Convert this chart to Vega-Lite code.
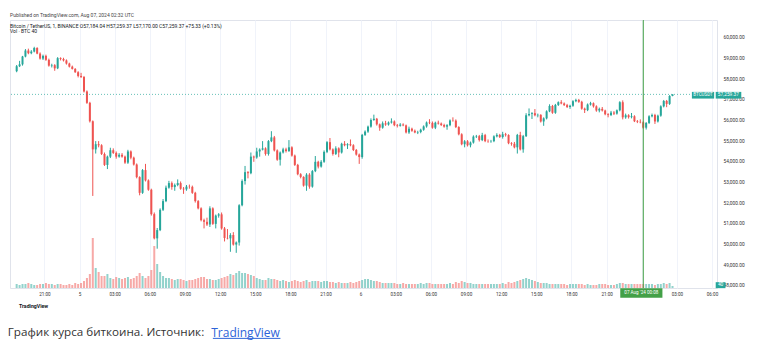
{
  "$schema": "https://vega.github.io/schema/vega-lite/v6.json",
  "width": 707,
  "height": 268,
  "autosize": {"type": "none"},
  "padding": {"left": 10, "top": 20, "right": 45, "bottom": 65},
  "background": "white",
  "config": {
    "font": "Roboto",
    "view": {"stroke": "#e0e3eb", "strokeWidth": 1},
    "axis": {"labelOverlap": false}
  },
  "title": {
    "text": "Published on TradingView.com, Aug 07, 2024 02:32 UTC",
    "subtitle": ["Bitcoin / TetherUS, 1, BINANCE   O57,184.04  H57,259.37  L57,170.00  C57,259.37  +75.33 (+0.13%)", "Vol · BTC   40"],
    "anchor": "start",
    "frame": "group",
    "fontSize": 5,
    "fontWeight": "normal",
    "color": "#444",
    "subtitleFontSize": 5,
    "subtitleColor": "#131722",
    "subtitlePadding": 6,
    "subtitleLineHeight": 5,
    "offset": -14
  },
  "datasets": {
    "candles": [
      {"t": "2024-08-04T18:30:00Z", "o": 58380, "h": 58680, "l": 58330, "c": 58620, "v": 240},
      {"t": "2024-08-04T18:45:00Z", "o": 58620, "h": 58880, "l": 58580, "c": 58710, "v": 180},
      {"t": "2024-08-04T19:00:00Z", "o": 58710, "h": 59120, "l": 58650, "c": 59090, "v": 240},
      {"t": "2024-08-04T19:15:00Z", "o": 59090, "h": 59450, "l": 59050, "c": 59380, "v": 240},
      {"t": "2024-08-04T19:30:00Z", "o": 59380, "h": 59470, "l": 59200, "c": 59250, "v": 300},
      {"t": "2024-08-04T19:45:00Z", "o": 59250, "h": 59400, "l": 59200, "c": 59330, "v": 240},
      {"t": "2024-08-04T20:00:00Z", "o": 59330, "h": 59560, "l": 59290, "c": 59500, "v": 180},
      {"t": "2024-08-04T20:15:00Z", "o": 59500, "h": 59540, "l": 59200, "c": 59230, "v": 180},
      {"t": "2024-08-04T20:30:00Z", "o": 59230, "h": 59290, "l": 58940, "c": 58990, "v": 240},
      {"t": "2024-08-04T20:45:00Z", "o": 58990, "h": 59180, "l": 58920, "c": 59120, "v": 240},
      {"t": "2024-08-04T21:00:00Z", "o": 59120, "h": 59180, "l": 58880, "c": 58930, "v": 300},
      {"t": "2024-08-04T21:15:00Z", "o": 58930, "h": 58990, "l": 58600, "c": 58650, "v": 240},
      {"t": "2024-08-04T21:30:00Z", "o": 58650, "h": 58740, "l": 58560, "c": 58670, "v": 240},
      {"t": "2024-08-04T21:45:00Z", "o": 58670, "h": 58720, "l": 58400, "c": 58520, "v": 180},
      {"t": "2024-08-04T22:00:00Z", "o": 58520, "h": 59060, "l": 58480, "c": 59010, "v": 240},
      {"t": "2024-08-04T22:15:00Z", "o": 59010, "h": 59050, "l": 58900, "c": 58970, "v": 240},
      {"t": "2024-08-04T22:30:00Z", "o": 58970, "h": 59030, "l": 58850, "c": 58900, "v": 180},
      {"t": "2024-08-04T22:45:00Z", "o": 58900, "h": 58950, "l": 58700, "c": 58750, "v": 180},
      {"t": "2024-08-04T23:00:00Z", "o": 58750, "h": 58790, "l": 58560, "c": 58600, "v": 240},
      {"t": "2024-08-04T23:15:00Z", "o": 58600, "h": 58650, "l": 58460, "c": 58490, "v": 180},
      {"t": "2024-08-04T23:30:00Z", "o": 58490, "h": 58530, "l": 58300, "c": 58330, "v": 300},
      {"t": "2024-08-04T23:45:00Z", "o": 58330, "h": 58380, "l": 58080, "c": 58150, "v": 240},
      {"t": "2024-08-05T00:00:00Z", "o": 58150, "h": 58300, "l": 58050, "c": 58100, "v": 300},
      {"t": "2024-08-05T00:15:00Z", "o": 58100, "h": 58150, "l": 57350, "c": 57400, "v": 420},
      {"t": "2024-08-05T00:30:00Z", "o": 57400, "h": 57450, "l": 56800, "c": 56850, "v": 600},
      {"t": "2024-08-05T00:45:00Z", "o": 56850, "h": 56900, "l": 55900, "c": 55960, "v": 840},
      {"t": "2024-08-05T01:00:00Z", "o": 55960, "h": 56000, "l": 52350, "c": 54600, "v": 3000},
      {"t": "2024-08-05T01:15:00Z", "o": 54600, "h": 55000, "l": 54400, "c": 54850, "v": 1200},
      {"t": "2024-08-05T01:30:00Z", "o": 54850, "h": 55000, "l": 54700, "c": 54800, "v": 960},
      {"t": "2024-08-05T01:45:00Z", "o": 54800, "h": 54850, "l": 54330, "c": 54380, "v": 720},
      {"t": "2024-08-05T02:00:00Z", "o": 54380, "h": 54450, "l": 53800, "c": 53850, "v": 720},
      {"t": "2024-08-05T02:15:00Z", "o": 53850, "h": 54300, "l": 53650, "c": 54250, "v": 840},
      {"t": "2024-08-05T02:30:00Z", "o": 54250, "h": 54680, "l": 54180, "c": 54560, "v": 600},
      {"t": "2024-08-05T02:45:00Z", "o": 54560, "h": 54650, "l": 54380, "c": 54430, "v": 540},
      {"t": "2024-08-05T03:00:00Z", "o": 54430, "h": 54500, "l": 54150, "c": 54250, "v": 660},
      {"t": "2024-08-05T03:15:00Z", "o": 54250, "h": 54420, "l": 54200, "c": 54340, "v": 600},
      {"t": "2024-08-05T03:30:00Z", "o": 54340, "h": 54420, "l": 54200, "c": 54250, "v": 540},
      {"t": "2024-08-05T03:45:00Z", "o": 54250, "h": 54300, "l": 53900, "c": 53960, "v": 600},
      {"t": "2024-08-05T04:00:00Z", "o": 53960, "h": 54580, "l": 53900, "c": 54500, "v": 660},
      {"t": "2024-08-05T04:15:00Z", "o": 54500, "h": 54550, "l": 54120, "c": 54200, "v": 540},
      {"t": "2024-08-05T04:30:00Z", "o": 54200, "h": 54250, "l": 53820, "c": 53870, "v": 600},
      {"t": "2024-08-05T04:45:00Z", "o": 53870, "h": 53920, "l": 53200, "c": 53260, "v": 720},
      {"t": "2024-08-05T05:00:00Z", "o": 53260, "h": 53300, "l": 52380, "c": 52500, "v": 900},
      {"t": "2024-08-05T05:15:00Z", "o": 52500, "h": 53650, "l": 52450, "c": 53600, "v": 720},
      {"t": "2024-08-05T05:30:00Z", "o": 53600, "h": 53900, "l": 53050, "c": 53100, "v": 600},
      {"t": "2024-08-05T05:45:00Z", "o": 53100, "h": 53150, "l": 52600, "c": 52650, "v": 720},
      {"t": "2024-08-05T06:00:00Z", "o": 52650, "h": 52700, "l": 51400, "c": 51470, "v": 1080},
      {"t": "2024-08-05T06:15:00Z", "o": 51470, "h": 51550, "l": 50250, "c": 50300, "v": 2520},
      {"t": "2024-08-05T06:30:00Z", "o": 50300, "h": 50800, "l": 49800, "c": 50700, "v": 1440},
      {"t": "2024-08-05T06:45:00Z", "o": 50700, "h": 51750, "l": 50650, "c": 51680, "v": 960},
      {"t": "2024-08-05T07:00:00Z", "o": 51680, "h": 52200, "l": 51620, "c": 52100, "v": 720},
      {"t": "2024-08-05T07:15:00Z", "o": 52100, "h": 52850, "l": 52050, "c": 52750, "v": 600},
      {"t": "2024-08-05T07:30:00Z", "o": 52750, "h": 53080, "l": 52700, "c": 52970, "v": 600},
      {"t": "2024-08-05T07:45:00Z", "o": 52970, "h": 53050, "l": 52650, "c": 52780, "v": 540},
      {"t": "2024-08-05T08:00:00Z", "o": 52780, "h": 52950, "l": 52600, "c": 52880, "v": 480},
      {"t": "2024-08-05T08:15:00Z", "o": 52880, "h": 53150, "l": 52820, "c": 52970, "v": 540},
      {"t": "2024-08-05T08:30:00Z", "o": 52970, "h": 53050, "l": 52650, "c": 52700, "v": 540},
      {"t": "2024-08-05T08:45:00Z", "o": 52700, "h": 52780, "l": 52450, "c": 52670, "v": 480},
      {"t": "2024-08-05T09:00:00Z", "o": 52670, "h": 52880, "l": 52600, "c": 52800, "v": 420},
      {"t": "2024-08-05T09:15:00Z", "o": 52800, "h": 52900, "l": 52700, "c": 52790, "v": 480},
      {"t": "2024-08-05T09:30:00Z", "o": 52790, "h": 52850, "l": 52450, "c": 52500, "v": 480},
      {"t": "2024-08-05T09:45:00Z", "o": 52500, "h": 52550, "l": 52030, "c": 52100, "v": 540},
      {"t": "2024-08-05T10:00:00Z", "o": 52100, "h": 52150, "l": 51700, "c": 51750, "v": 600},
      {"t": "2024-08-05T10:15:00Z", "o": 51750, "h": 51800, "l": 51120, "c": 51180, "v": 660},
      {"t": "2024-08-05T10:30:00Z", "o": 51180, "h": 51250, "l": 50780, "c": 51100, "v": 660},
      {"t": "2024-08-05T10:45:00Z", "o": 51100, "h": 51300, "l": 50900, "c": 50970, "v": 540},
      {"t": "2024-08-05T11:00:00Z", "o": 50970, "h": 51850, "l": 50850, "c": 51750, "v": 540},
      {"t": "2024-08-05T11:15:00Z", "o": 51750, "h": 51800, "l": 50950, "c": 51000, "v": 480},
      {"t": "2024-08-05T11:30:00Z", "o": 51000, "h": 51450, "l": 50780, "c": 51400, "v": 480},
      {"t": "2024-08-05T11:45:00Z", "o": 51400, "h": 51520, "l": 51300, "c": 51460, "v": 540},
      {"t": "2024-08-05T12:00:00Z", "o": 51460, "h": 51550, "l": 50720, "c": 50780, "v": 600},
      {"t": "2024-08-05T12:15:00Z", "o": 50780, "h": 50850, "l": 50150, "c": 50320, "v": 660},
      {"t": "2024-08-05T12:30:00Z", "o": 50320, "h": 50750, "l": 50250, "c": 50300, "v": 720},
      {"t": "2024-08-05T12:45:00Z", "o": 50300, "h": 50550, "l": 49650, "c": 50460, "v": 840},
      {"t": "2024-08-05T13:00:00Z", "o": 50460, "h": 50600, "l": 49950, "c": 50000, "v": 780},
      {"t": "2024-08-05T13:15:00Z", "o": 50000, "h": 50150, "l": 49600, "c": 50100, "v": 900},
      {"t": "2024-08-05T13:30:00Z", "o": 50100, "h": 51950, "l": 49950, "c": 51900, "v": 1020},
      {"t": "2024-08-05T13:45:00Z", "o": 51900, "h": 53150, "l": 51850, "c": 53070, "v": 900},
      {"t": "2024-08-05T14:00:00Z", "o": 53070, "h": 53800, "l": 52900, "c": 53500, "v": 900},
      {"t": "2024-08-05T14:15:00Z", "o": 53500, "h": 53550, "l": 53200, "c": 53450, "v": 840},
      {"t": "2024-08-05T14:30:00Z", "o": 53450, "h": 54450, "l": 53400, "c": 54250, "v": 780},
      {"t": "2024-08-05T14:45:00Z", "o": 54250, "h": 54300, "l": 54000, "c": 54210, "v": 720},
      {"t": "2024-08-05T15:00:00Z", "o": 54210, "h": 54680, "l": 54150, "c": 54500, "v": 600},
      {"t": "2024-08-05T15:15:00Z", "o": 54500, "h": 54650, "l": 54250, "c": 54590, "v": 540},
      {"t": "2024-08-05T15:30:00Z", "o": 54590, "h": 55000, "l": 54550, "c": 54650, "v": 480},
      {"t": "2024-08-05T15:45:00Z", "o": 54650, "h": 54700, "l": 54300, "c": 54380, "v": 480},
      {"t": "2024-08-05T16:00:00Z", "o": 54380, "h": 55050, "l": 54300, "c": 55000, "v": 600},
      {"t": "2024-08-05T16:15:00Z", "o": 55000, "h": 55480, "l": 54950, "c": 55180, "v": 540},
      {"t": "2024-08-05T16:30:00Z", "o": 55180, "h": 55250, "l": 54500, "c": 54550, "v": 540},
      {"t": "2024-08-05T16:45:00Z", "o": 54550, "h": 54600, "l": 54050, "c": 54100, "v": 480},
      {"t": "2024-08-05T17:00:00Z", "o": 54100, "h": 54500, "l": 53820, "c": 54450, "v": 420},
      {"t": "2024-08-05T17:15:00Z", "o": 54450, "h": 54680, "l": 54400, "c": 54600, "v": 480},
      {"t": "2024-08-05T17:30:00Z", "o": 54600, "h": 54680, "l": 54450, "c": 54520, "v": 420},
      {"t": "2024-08-05T17:45:00Z", "o": 54520, "h": 55050, "l": 54480, "c": 54700, "v": 360},
      {"t": "2024-08-05T18:00:00Z", "o": 54700, "h": 54750, "l": 54250, "c": 54300, "v": 420},
      {"t": "2024-08-05T18:15:00Z", "o": 54300, "h": 54350, "l": 53800, "c": 53850, "v": 480},
      {"t": "2024-08-05T18:30:00Z", "o": 53850, "h": 53900, "l": 53350, "c": 53400, "v": 420},
      {"t": "2024-08-05T18:45:00Z", "o": 53400, "h": 53450, "l": 53200, "c": 53270, "v": 360},
      {"t": "2024-08-05T19:00:00Z", "o": 53270, "h": 53300, "l": 52800, "c": 52850, "v": 420},
      {"t": "2024-08-05T19:15:00Z", "o": 52850, "h": 53450, "l": 52600, "c": 53380, "v": 480},
      {"t": "2024-08-05T19:30:00Z", "o": 53380, "h": 53450, "l": 52700, "c": 52800, "v": 360},
      {"t": "2024-08-05T19:45:00Z", "o": 52800, "h": 53600, "l": 52750, "c": 53550, "v": 420},
      {"t": "2024-08-05T20:00:00Z", "o": 53550, "h": 54280, "l": 53500, "c": 54000, "v": 420},
      {"t": "2024-08-05T20:15:00Z", "o": 54000, "h": 54050, "l": 53680, "c": 53770, "v": 420},
      {"t": "2024-08-05T20:30:00Z", "o": 53770, "h": 54080, "l": 53720, "c": 54000, "v": 360},
      {"t": "2024-08-05T20:45:00Z", "o": 54000, "h": 54550, "l": 53950, "c": 54480, "v": 420},
      {"t": "2024-08-05T21:00:00Z", "o": 54480, "h": 55000, "l": 54420, "c": 54950, "v": 420},
      {"t": "2024-08-05T21:15:00Z", "o": 54950, "h": 55150, "l": 54550, "c": 54600, "v": 360},
      {"t": "2024-08-05T21:30:00Z", "o": 54600, "h": 54650, "l": 54300, "c": 54380, "v": 360},
      {"t": "2024-08-05T21:45:00Z", "o": 54380, "h": 54750, "l": 54330, "c": 54650, "v": 300},
      {"t": "2024-08-05T22:00:00Z", "o": 54650, "h": 54700, "l": 54220, "c": 54450, "v": 360},
      {"t": "2024-08-05T22:15:00Z", "o": 54450, "h": 54920, "l": 54400, "c": 54870, "v": 300},
      {"t": "2024-08-05T22:30:00Z", "o": 54870, "h": 55000, "l": 54750, "c": 54800, "v": 300},
      {"t": "2024-08-05T22:45:00Z", "o": 54800, "h": 54900, "l": 54620, "c": 54850, "v": 300},
      {"t": "2024-08-05T23:00:00Z", "o": 54850, "h": 55080, "l": 54750, "c": 54800, "v": 360},
      {"t": "2024-08-05T23:15:00Z", "o": 54800, "h": 54850, "l": 54520, "c": 54570, "v": 300},
      {"t": "2024-08-05T23:30:00Z", "o": 54570, "h": 54620, "l": 54300, "c": 54350, "v": 360},
      {"t": "2024-08-05T23:45:00Z", "o": 54350, "h": 54400, "l": 53900, "c": 54230, "v": 420},
      {"t": "2024-08-06T00:00:00Z", "o": 54230, "h": 55350, "l": 54150, "c": 55300, "v": 480},
      {"t": "2024-08-06T00:15:00Z", "o": 55300, "h": 55520, "l": 55250, "c": 55460, "v": 540},
      {"t": "2024-08-06T00:30:00Z", "o": 55460, "h": 55750, "l": 55400, "c": 55700, "v": 540},
      {"t": "2024-08-06T00:45:00Z", "o": 55700, "h": 56100, "l": 55650, "c": 56020, "v": 480},
      {"t": "2024-08-06T01:00:00Z", "o": 56020, "h": 56280, "l": 55980, "c": 56080, "v": 420},
      {"t": "2024-08-06T01:15:00Z", "o": 56080, "h": 56120, "l": 55750, "c": 55810, "v": 420},
      {"t": "2024-08-06T01:30:00Z", "o": 55810, "h": 55850, "l": 55500, "c": 55650, "v": 360},
      {"t": "2024-08-06T01:45:00Z", "o": 55650, "h": 55950, "l": 55600, "c": 55860, "v": 300},
      {"t": "2024-08-06T02:00:00Z", "o": 55860, "h": 55980, "l": 55740, "c": 55800, "v": 300},
      {"t": "2024-08-06T02:15:00Z", "o": 55800, "h": 55950, "l": 55750, "c": 55900, "v": 300},
      {"t": "2024-08-06T02:30:00Z", "o": 55900, "h": 56100, "l": 55850, "c": 55950, "v": 300},
      {"t": "2024-08-06T02:45:00Z", "o": 55950, "h": 56000, "l": 55720, "c": 55770, "v": 300},
      {"t": "2024-08-06T03:00:00Z", "o": 55770, "h": 55830, "l": 55660, "c": 55740, "v": 240},
      {"t": "2024-08-06T03:15:00Z", "o": 55740, "h": 55870, "l": 55700, "c": 55800, "v": 240},
      {"t": "2024-08-06T03:30:00Z", "o": 55800, "h": 55860, "l": 55720, "c": 55760, "v": 300},
      {"t": "2024-08-06T03:45:00Z", "o": 55760, "h": 55800, "l": 55370, "c": 55420, "v": 240},
      {"t": "2024-08-06T04:00:00Z", "o": 55420, "h": 55700, "l": 55350, "c": 55600, "v": 240},
      {"t": "2024-08-06T04:15:00Z", "o": 55600, "h": 55650, "l": 55450, "c": 55500, "v": 240},
      {"t": "2024-08-06T04:30:00Z", "o": 55500, "h": 55560, "l": 55380, "c": 55420, "v": 240},
      {"t": "2024-08-06T04:45:00Z", "o": 55420, "h": 55500, "l": 55340, "c": 55440, "v": 240},
      {"t": "2024-08-06T05:00:00Z", "o": 55440, "h": 55600, "l": 55380, "c": 55550, "v": 300},
      {"t": "2024-08-06T05:15:00Z", "o": 55550, "h": 55760, "l": 55500, "c": 55710, "v": 240},
      {"t": "2024-08-06T05:30:00Z", "o": 55710, "h": 55950, "l": 55650, "c": 55900, "v": 300},
      {"t": "2024-08-06T05:45:00Z", "o": 55900, "h": 56060, "l": 55820, "c": 55880, "v": 300},
      {"t": "2024-08-06T06:00:00Z", "o": 55880, "h": 55950, "l": 55600, "c": 55650, "v": 240},
      {"t": "2024-08-06T06:15:00Z", "o": 55650, "h": 55940, "l": 55580, "c": 55890, "v": 240},
      {"t": "2024-08-06T06:30:00Z", "o": 55890, "h": 55990, "l": 55800, "c": 55850, "v": 240},
      {"t": "2024-08-06T06:45:00Z", "o": 55850, "h": 55900, "l": 55730, "c": 55780, "v": 240},
      {"t": "2024-08-06T07:00:00Z", "o": 55780, "h": 55840, "l": 55650, "c": 55700, "v": 240},
      {"t": "2024-08-06T07:15:00Z", "o": 55700, "h": 55820, "l": 55550, "c": 55770, "v": 240},
      {"t": "2024-08-06T07:30:00Z", "o": 55770, "h": 56050, "l": 55720, "c": 56000, "v": 300},
      {"t": "2024-08-06T07:45:00Z", "o": 56000, "h": 56150, "l": 55940, "c": 55990, "v": 240},
      {"t": "2024-08-06T08:00:00Z", "o": 55990, "h": 56050, "l": 55630, "c": 55680, "v": 360},
      {"t": "2024-08-06T08:15:00Z", "o": 55680, "h": 55720, "l": 55280, "c": 55330, "v": 300},
      {"t": "2024-08-06T08:30:00Z", "o": 55330, "h": 55380, "l": 54800, "c": 54850, "v": 420},
      {"t": "2024-08-06T08:45:00Z", "o": 54850, "h": 55050, "l": 54700, "c": 54990, "v": 360},
      {"t": "2024-08-06T09:00:00Z", "o": 54990, "h": 55050, "l": 54740, "c": 54800, "v": 300},
      {"t": "2024-08-06T09:15:00Z", "o": 54800, "h": 54980, "l": 54700, "c": 54930, "v": 300},
      {"t": "2024-08-06T09:30:00Z", "o": 54930, "h": 55280, "l": 54880, "c": 55220, "v": 240},
      {"t": "2024-08-06T09:45:00Z", "o": 55220, "h": 55300, "l": 55150, "c": 55240, "v": 240},
      {"t": "2024-08-06T10:00:00Z", "o": 55240, "h": 55300, "l": 54980, "c": 55050, "v": 240},
      {"t": "2024-08-06T10:15:00Z", "o": 55050, "h": 55400, "l": 55000, "c": 55290, "v": 240},
      {"t": "2024-08-06T10:30:00Z", "o": 55290, "h": 55350, "l": 54950, "c": 55000, "v": 240},
      {"t": "2024-08-06T10:45:00Z", "o": 55000, "h": 55080, "l": 54920, "c": 54990, "v": 240},
      {"t": "2024-08-06T11:00:00Z", "o": 54990, "h": 55060, "l": 54920, "c": 55000, "v": 240},
      {"t": "2024-08-06T11:15:00Z", "o": 55000, "h": 55280, "l": 54950, "c": 55230, "v": 240},
      {"t": "2024-08-06T11:30:00Z", "o": 55230, "h": 55380, "l": 55180, "c": 55300, "v": 240},
      {"t": "2024-08-06T11:45:00Z", "o": 55300, "h": 55350, "l": 55150, "c": 55200, "v": 240},
      {"t": "2024-08-06T12:00:00Z", "o": 55200, "h": 55450, "l": 55120, "c": 55330, "v": 300},
      {"t": "2024-08-06T12:15:00Z", "o": 55330, "h": 55400, "l": 55220, "c": 55290, "v": 240},
      {"t": "2024-08-06T12:30:00Z", "o": 55290, "h": 55330, "l": 54850, "c": 54900, "v": 360},
      {"t": "2024-08-06T12:45:00Z", "o": 54900, "h": 54950, "l": 54780, "c": 54870, "v": 300},
      {"t": "2024-08-06T13:00:00Z", "o": 54870, "h": 54960, "l": 54650, "c": 54700, "v": 360},
      {"t": "2024-08-06T13:15:00Z", "o": 54700, "h": 55350, "l": 54400, "c": 55300, "v": 420},
      {"t": "2024-08-06T13:30:00Z", "o": 55300, "h": 55450, "l": 54550, "c": 54600, "v": 480},
      {"t": "2024-08-06T13:45:00Z", "o": 54600, "h": 55300, "l": 54440, "c": 55240, "v": 540},
      {"t": "2024-08-06T14:00:00Z", "o": 55240, "h": 56350, "l": 55200, "c": 56250, "v": 600},
      {"t": "2024-08-06T14:15:00Z", "o": 56250, "h": 56580, "l": 56200, "c": 56310, "v": 540},
      {"t": "2024-08-06T14:30:00Z", "o": 56310, "h": 56400, "l": 56070, "c": 56350, "v": 480},
      {"t": "2024-08-06T14:45:00Z", "o": 56350, "h": 56550, "l": 56200, "c": 56250, "v": 420},
      {"t": "2024-08-06T15:00:00Z", "o": 56250, "h": 56330, "l": 56150, "c": 56270, "v": 360},
      {"t": "2024-08-06T15:15:00Z", "o": 56270, "h": 56300, "l": 55900, "c": 55950, "v": 300},
      {"t": "2024-08-06T15:30:00Z", "o": 55950, "h": 56150, "l": 55740, "c": 56100, "v": 300},
      {"t": "2024-08-06T15:45:00Z", "o": 56100, "h": 56490, "l": 56050, "c": 56440, "v": 300},
      {"t": "2024-08-06T16:00:00Z", "o": 56440, "h": 56780, "l": 56400, "c": 56700, "v": 240},
      {"t": "2024-08-06T16:15:00Z", "o": 56700, "h": 56750, "l": 56320, "c": 56370, "v": 240},
      {"t": "2024-08-06T16:30:00Z", "o": 56370, "h": 56800, "l": 56320, "c": 56750, "v": 240},
      {"t": "2024-08-06T16:45:00Z", "o": 56750, "h": 56920, "l": 56700, "c": 56880, "v": 240},
      {"t": "2024-08-06T17:00:00Z", "o": 56880, "h": 56980, "l": 56780, "c": 56820, "v": 240},
      {"t": "2024-08-06T17:15:00Z", "o": 56820, "h": 56870, "l": 56700, "c": 56740, "v": 240},
      {"t": "2024-08-06T17:30:00Z", "o": 56740, "h": 56800, "l": 56600, "c": 56650, "v": 180},
      {"t": "2024-08-06T17:45:00Z", "o": 56650, "h": 56760, "l": 56560, "c": 56710, "v": 240},
      {"t": "2024-08-06T18:00:00Z", "o": 56710, "h": 56980, "l": 56660, "c": 56930, "v": 240},
      {"t": "2024-08-06T18:15:00Z", "o": 56930, "h": 57050, "l": 56880, "c": 56990, "v": 240},
      {"t": "2024-08-06T18:30:00Z", "o": 56990, "h": 57040, "l": 56850, "c": 56900, "v": 240},
      {"t": "2024-08-06T18:45:00Z", "o": 56900, "h": 56950, "l": 56520, "c": 56570, "v": 240},
      {"t": "2024-08-06T19:00:00Z", "o": 56570, "h": 56620, "l": 56360, "c": 56500, "v": 180},
      {"t": "2024-08-06T19:15:00Z", "o": 56500, "h": 56820, "l": 56450, "c": 56770, "v": 240},
      {"t": "2024-08-06T19:30:00Z", "o": 56770, "h": 56900, "l": 56720, "c": 56830, "v": 180},
      {"t": "2024-08-06T19:45:00Z", "o": 56830, "h": 56870, "l": 56620, "c": 56680, "v": 180},
      {"t": "2024-08-06T20:00:00Z", "o": 56680, "h": 56730, "l": 56420, "c": 56480, "v": 180},
      {"t": "2024-08-06T20:15:00Z", "o": 56480, "h": 56620, "l": 56390, "c": 56560, "v": 240},
      {"t": "2024-08-06T20:30:00Z", "o": 56560, "h": 56650, "l": 56430, "c": 56480, "v": 240},
      {"t": "2024-08-06T20:45:00Z", "o": 56480, "h": 56520, "l": 56250, "c": 56300, "v": 240},
      {"t": "2024-08-06T21:00:00Z", "o": 56300, "h": 56350, "l": 56150, "c": 56260, "v": 180},
      {"t": "2024-08-06T21:15:00Z", "o": 56260, "h": 56460, "l": 56210, "c": 56380, "v": 180},
      {"t": "2024-08-06T21:30:00Z", "o": 56380, "h": 56450, "l": 56260, "c": 56330, "v": 180},
      {"t": "2024-08-06T21:45:00Z", "o": 56330, "h": 56530, "l": 56280, "c": 56490, "v": 240},
      {"t": "2024-08-06T22:00:00Z", "o": 56490, "h": 56930, "l": 56440, "c": 56880, "v": 300},
      {"t": "2024-08-06T22:15:00Z", "o": 56880, "h": 56970, "l": 56050, "c": 56150, "v": 300},
      {"t": "2024-08-06T22:30:00Z", "o": 56150, "h": 56330, "l": 56080, "c": 56250, "v": 240},
      {"t": "2024-08-06T22:45:00Z", "o": 56250, "h": 56300, "l": 56090, "c": 56160, "v": 240},
      {"t": "2024-08-06T23:00:00Z", "o": 56160, "h": 56360, "l": 56100, "c": 56200, "v": 240},
      {"t": "2024-08-06T23:15:00Z", "o": 56200, "h": 56250, "l": 55920, "c": 55960, "v": 240},
      {"t": "2024-08-06T23:30:00Z", "o": 55960, "h": 56020, "l": 55870, "c": 55930, "v": 240},
      {"t": "2024-08-06T23:45:00Z", "o": 55930, "h": 56050, "l": 55860, "c": 55910, "v": 240},
      {"t": "2024-08-07T00:00:00Z", "o": 55910, "h": 55960, "l": 55600, "c": 55650, "v": 240},
      {"t": "2024-08-07T00:15:00Z", "o": 55650, "h": 55920, "l": 55560, "c": 55880, "v": 240},
      {"t": "2024-08-07T00:30:00Z", "o": 55880, "h": 56250, "l": 55830, "c": 56200, "v": 240},
      {"t": "2024-08-07T00:45:00Z", "o": 56200, "h": 56330, "l": 56150, "c": 56260, "v": 240},
      {"t": "2024-08-07T01:00:00Z", "o": 56260, "h": 56320, "l": 55830, "c": 55950, "v": 180},
      {"t": "2024-08-07T01:15:00Z", "o": 55950, "h": 56280, "l": 55900, "c": 56230, "v": 240},
      {"t": "2024-08-07T01:30:00Z", "o": 56230, "h": 56730, "l": 56180, "c": 56680, "v": 240},
      {"t": "2024-08-07T01:45:00Z", "o": 56680, "h": 56990, "l": 56630, "c": 56940, "v": 300},
      {"t": "2024-08-07T02:00:00Z", "o": 56940, "h": 56990, "l": 56640, "c": 56800, "v": 240},
      {"t": "2024-08-07T02:15:00Z", "o": 56800, "h": 57220, "l": 56750, "c": 57184.04, "v": 300},
      {"t": "2024-08-07T02:30:00Z", "o": 57184.04, "h": 57259.37, "l": 57170, "c": 57259.37, "v": 120}
    ]
  },
  "data": {"name": "candles"},
  "layer": [
    {
      "mark": {"type": "bar", "width": 2, "xOffset": 1.5, "opacity": 0.5},
      "encoding": {
        "x": {
          "field": "t",
          "type": "temporal",
          "scale": {
            "type": "utc",
            "domain": [
              {"year": 2024, "month": 8, "date": 4, "hours": 18, "minutes": 29, "seconds": 12, "utc": true},
              {"year": 2024, "month": 8, "date": 7, "hours": 6, "utc": true}
            ]
          },
          "axis": {
            "tickCount": 20,
            "labelExpr": "utchours(datum.value) == 0 ? (utcdate(datum.value) == 7 ? '' : utcFormat(datum.value, '%-d')) : utcFormat(datum.value, '%H:%M')",
            "labelFontSize": 4.6,
            "labelColor": "#333",
            "labelPadding": 3,
            "labelOverlap": false,
            "labelFlush": false,
            "ticks": false,
            "domain": false,
            "gridColor": "#f0f3fa",
            "gridWidth": 1,
            "title": "График курса биткоина. Источник:",
            "titleX": -2.7,
            "titleY": 44.5,
            "titleAlign": "left",
            "titleBaseline": "middle",
            "titleFont": "Open Sans",
            "titleFontSize": 11.65,
            "titleFontWeight": "normal",
            "titleColor": "#333"
          }
        },
        "y": {
          "field": "v",
          "type": "quantitative",
          "scale": {"domain": [0, 16080]},
          "axis": {
            "orient": "left",
            "labels": false,
            "ticks": false,
            "domain": false,
            "grid": false,
            "title": "TradingView",
            "titleX": 8.5,
            "titleY": 285,
            "titleAngle": 0,
            "titleAlign": "left",
            "titleBaseline": "middle",
            "titleFontSize": 5.2,
            "titleFontWeight": "bold",
            "titleColor": "#131722"
          }
        },
        "color": {"condition": {"test": "datum.c >= datum.o", "value": "#26a69a"}, "value": "#ef5350"}
      }
    },
    {
      "layer": [
        {
          "mark": {"type": "rule", "xOffset": 1.5, "strokeWidth": 1},
          "encoding": {
            "x": {"field": "t", "type": "temporal"},
            "y": {
              "field": "l",
              "type": "quantitative",
              "scale": {"domain": [47900, 60855], "zero": false, "nice": false},
              "axis": {
                "orient": "right",
                "tickCount": 13,
                "format": ",.2f",
                "labelFontSize": 4.8,
                "labelColor": "#333",
                "labelPadding": 6,
                "labelOverlap": false,
                "ticks": false,
                "domain": false,
                "gridColor": "#f0f3fa",
                "title": "TradingView",
                "titleX": -506.3,
                "titleY": 312.5,
                "titleAngle": 0,
                "titleAlign": "left",
                "titleBaseline": "middle",
                "titleFont": "Open Sans",
                "titleFontSize": 12,
                "titleFontWeight": "normal",
                "titleColor": "#2d63d8"
              }
            },
            "y2": {"field": "h"},
            "color": {"condition": {"test": "datum.c >= datum.o", "value": "#26a69a"}, "value": "#ef5350"}
          }
        },
        {
          "mark": {"type": "bar", "width": 2, "xOffset": 1.5},
          "encoding": {
            "x": {"field": "t", "type": "temporal"},
            "y": {"field": "o", "type": "quantitative"},
            "y2": {"field": "c"},
            "color": {"condition": {"test": "datum.c >= datum.o", "value": "#26a69a"}, "value": "#ef5350"}
          }
        },
        {
          "data": {"values": [{}]},
          "mark": {"type": "rule", "color": "#26a69a", "strokeDash": [1, 2], "strokeWidth": 1, "opacity": 0.7},
          "encoding": {"y": {"datum": 57259.37}}
        },
        {
          "data": {"values": [{}]},
          "mark": {"type": "rule", "color": "#43a047", "strokeWidth": 1},
          "encoding": {"x": {"datum": {"year": 2024, "month": 8, "date": 7, "hours": 0, "minutes": 8, "utc": true}, "type": "temporal"}}
        },
        {
          "data": {"values": [{}]},
          "mark": {"type": "rect", "color": "#26a69a"},
          "encoding": {
            "x": {"datum": {"year": 2024, "month": 8, "date": 7, "hours": 4, "minutes": 17, "utc": true}, "type": "temporal"},
            "x2": {"datum": {"year": 2024, "month": 8, "date": 7, "hours": 6, "minutes": 11, "utc": true}},
            "y": {"datum": 57380},
            "y2": {"datum": 57057}
          }
        },
        {
          "data": {"values": [{}]},
          "mark": {"type": "rect", "color": "#26a69a"},
          "encoding": {
            "x": {"datum": {"year": 2024, "month": 8, "date": 7, "hours": 6, "minutes": 19, "utc": true}, "type": "temporal"},
            "x2": {"datum": {"year": 2024, "month": 8, "date": 7, "hours": 8, "minutes": 30, "utc": true}},
            "y": {"datum": 57380},
            "y2": {"datum": 57057}
          }
        },
        {
          "data": {"values": [{}]},
          "mark": {"type": "rect", "color": "#26a69a"},
          "encoding": {
            "x": {"datum": {"year": 2024, "month": 8, "date": 7, "hours": 6, "minutes": 19, "utc": true}, "type": "temporal"},
            "x2": {"datum": {"year": 2024, "month": 8, "date": 7, "hours": 7, "minutes": 9, "utc": true}},
            "y": {"datum": 48181},
            "y2": {"datum": 47892}
          }
        },
        {
          "data": {"values": [{}]},
          "mark": {"type": "rect", "color": "#43a047"},
          "encoding": {
            "x": {"datum": {"year": 2024, "month": 8, "date": 6, "hours": 22, "minutes": 10, "utc": true}, "type": "temporal"},
            "x2": {"datum": {"year": 2024, "month": 8, "date": 7, "hours": 1, "minutes": 46, "utc": true}},
            "y": {"datum": 47892},
            "y2": {"datum": 47429}
          }
        },
        {
          "data": {"values": [{}]},
          "mark": {"type": "text", "color": "white", "fontSize": 4.5, "align": "center", "baseline": "middle"},
          "encoding": {
            "x": {"datum": {"year": 2024, "month": 8, "date": 7, "hours": 5, "minutes": 14, "utc": true}, "type": "temporal"},
            "y": {"datum": 57221},
            "text": {"value": "BTCUSDT"}
          }
        },
        {
          "data": {"values": [{}]},
          "mark": {"type": "text", "color": "white", "fontSize": 4.8, "align": "center", "baseline": "middle"},
          "encoding": {
            "x": {"datum": {"year": 2024, "month": 8, "date": 7, "hours": 7, "minutes": 24, "utc": true}, "type": "temporal"},
            "y": {"datum": 57221},
            "text": {"value": "57,259.37"}
          }
        },
        {
          "data": {"values": [{}]},
          "mark": {"type": "text", "color": "white", "fontSize": 4.8, "align": "center", "baseline": "middle"},
          "encoding": {
            "x": {"datum": {"year": 2024, "month": 8, "date": 7, "hours": 6, "minutes": 44, "utc": true}, "type": "temporal"},
            "y": {"datum": 48036},
            "text": {"value": "40"}
          }
        },
        {
          "data": {"values": [{}]},
          "mark": {"type": "text", "color": "white", "fontSize": 4.6, "align": "center", "baseline": "middle"},
          "encoding": {
            "x": {"datum": {"year": 2024, "month": 8, "date": 6, "hours": 23, "minutes": 58, "utc": true}, "type": "temporal"},
            "y": {"datum": 47660},
            "text": {"value": "07 Aug '24   00:08"}
          }
        },
        {
          "data": {"values": [{}]},
          "mark": {"type": "rule", "color": "#2d63d8", "strokeWidth": 1},
          "encoding": {
            "x": {"datum": {"year": 2024, "month": 8, "date": 5, "hours": 11, "minutes": 23, "utc": true}, "type": "temporal"},
            "x2": {"datum": {"year": 2024, "month": 8, "date": 5, "hours": 17, "minutes": 9, "utc": true}},
            "y": {"datum": 45465}
          }
        }
      ]
    }
  ],
  "resolve": {"scale": {"y": "independent"}, "axis": {"y": "independent"}}
}
